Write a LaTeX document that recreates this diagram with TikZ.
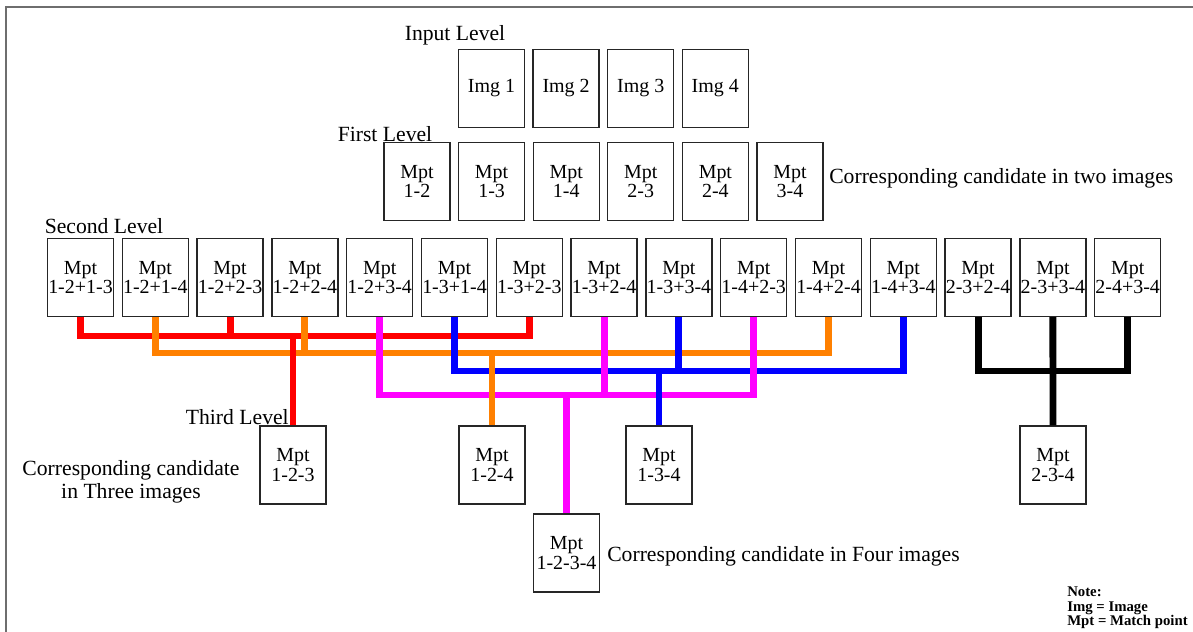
\documentclass[tikz,border=0pt]{standalone}
\usepackage{fontspec}
\setmainfont{Liberation Serif}
\usepackage{xcolor}
\usepackage{tikz}

\definecolor{linkorange}{RGB}{255,128,0}
\definecolor{linkpink}{RGB}{255,0,255}
\definecolor{linkblue}{RGB}{0,0,255}
\definecolor{linkred}{RGB}{255,0,0}
\definecolor{framegray}{RGB}{110,110,110}

\tikzset{
  mbox/.style={draw=black!85, line width=0.9pt, minimum width=1.65cm, minimum height=1.95cm,
    inner sep=0pt, align=center, font=\fontsize{14.2}{14}\selectfont},
  lvl/.style={inner sep=0pt, font=\fontsize{15.4}{16}\selectfont},
  link/.style={line width=4.9pt, line join=miter},
}

\begin{document}
\begin{tikzpicture}[x=0.025cm, y=-0.025cm]
            \useasboundingbox (0,0) rectangle (1193,632);
            \draw[framegray, line width=1.4pt] (6,632) -- (6,7) -- (1193,7);

            % input images and the pairwise match points
            \foreach \i in {1,...,4}
                \node[mbox] (img\i) at ({491.5+74.6*(\i-1)},88.5) {Img \i};
            \foreach \lab [count=\i] in {1-2,1-3,1-4,2-3,2-4,3-4}
                \node[mbox] (f\i) at ({417+74.6*(\i-1)},181.5) {Mpt\\\lab};

            % pairs of pairs
            \foreach \lab [count=\i] in {1-2+1-3,1-2+1-4,1-2+2-3,1-2+2-4,1-2+3-4,1-3+1-4,1-3+2-3,1-3+2-4,
                                         1-3+3-4,1-4+2-3,1-4+2-4,1-4+3-4,2-3+2-4,2-3+3-4,2-4+3-4}
                \node[mbox] (s\i) at ({80.5+74.8*(\i-1)},277.5) {Mpt\\\lab};

            % triples and the full set
            \node[mbox] (t123) at (293,465) {Mpt\\1-2-3};
            \node[mbox] (t124) at (492,465) {Mpt\\1-2-4};
            \node[mbox] (t134) at (659,465) {Mpt\\1-3-4};
            \node[mbox] (t234) at (1053,465) {Mpt\\2-3-4};
            \node[mbox] (q1234) at (566.5,553) {Mpt\\1-2-3-4};

            \coordinate (redbus) at (0,336);
            \coordinate (orangebus) at (0,353);
            \coordinate (bluebus) at (0,371);
            \coordinate (pinkbus) at (0,395);

            % buses with their outer legs
            \draw[link, linkred] (s1.south) -- (s1.south |- redbus) -- (s7.south |- redbus) -- (s7.south);
            \draw[link, linkorange] (s2.south) -- (s2.south |- orangebus) -- (s11.south |- orangebus) -- (s11.south);
            \draw[link, linkblue] (s6.south) -- (s6.south |- bluebus) -- (s12.south |- bluebus) -- (s12.south);
            \draw[link, linkpink] (s5.south) -- (s5.south |- pinkbus) -- (s10.south |- pinkbus) -- (s10.south);
            \draw[link] (s13.south) -- (s13.south |- bluebus) -- (s15.south |- bluebus) -- (s15.south);

            % inner legs and drops
            \draw[link, linkred] (s3.south) -- (s3.south |- redbus);
            \draw[link, linkred] (t123.north) -- (t123.north |- redbus);
            \draw[link, linkorange] (s4.south) -- (s4.south |- orangebus);
            \draw[link, linkorange] (t124.north) -- (t124.north |- orangebus);
            \draw[link, linkblue] (s9.south) -- (s9.south |- bluebus);
            \draw[link, linkblue] (t134.north) -- (t134.north |- bluebus);
            \draw[link, linkpink] (s8.south) -- (s8.south |- pinkbus);
            \draw[link, linkpink] (q1234.north) -- (q1234.north |- pinkbus);
            \draw[link] (s14.south) -- (t234.north);

            % level names and captions
            \node[lvl] (inlvl) at (455,35) {Input Level};
            \node[lvl] (firstlvl) at (385,134) {First Level};
            \node[lvl] (secondlvl) at (104,226) {Second Level};
            \node[lvl, anchor=east] (thirdlvl) at (289,417) {Third Level};
            \node[lvl, anchor=west] (twocap) at (829,178) {Corresponding candidate in two images};
            \node[lvl, align=center] (threecap) at (131,482) {Corresponding candidate\\in Three images};
            \node[lvl, anchor=west] (fourcap) at (607,556) {Corresponding candidate in Four images};
            \node[inner sep=0pt, anchor=north west, align=left, font=\fontsize{10.5}{10}\selectfont\bfseries]
                (note) at (1067,587) {Note:\\Img = Image\\Mpt = Match point};
        \end{tikzpicture}
\end{document}
